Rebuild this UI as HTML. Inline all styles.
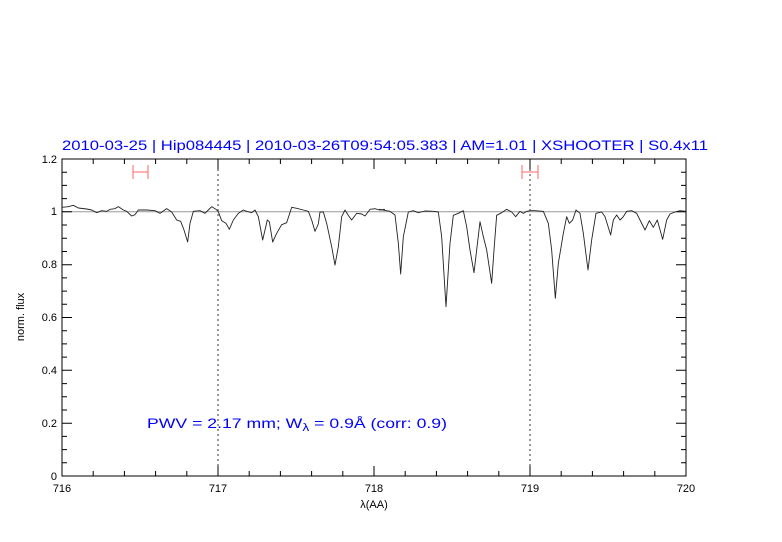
<!DOCTYPE html>
<html><head><style>body{margin:0;background:#fff}svg{display:block}</style></head><body>
<svg width="782" height="542" xmlns="http://www.w3.org/2000/svg" font-family="Liberation Sans, sans-serif">
<rect width="782" height="542" fill="#fff"/>
<text x="62" y="150" fill="#0000ff" font-size="14" textLength="646" lengthAdjust="spacingAndGlyphs">2010-03-25 | Hip084445 | 2010-03-26T09:54:05.383 | AM=1.01 | XSHOOTER | S0.4x11</text>
<line x1="62" y1="211.8" x2="686" y2="211.8" stroke="#999" stroke-width="1"/>
<line x1="218" y1="159" x2="218" y2="476" stroke="#000" stroke-dasharray="2,3" stroke-width="0.8"/>
<line x1="530" y1="159" x2="530" y2="476" stroke="#000" stroke-dasharray="2,3" stroke-width="0.8"/>
<g stroke="#f66" stroke-width="1" fill="none">
<path d="M133,172H148M133,165V179M148,165V179"/>
<path d="M522,172H538M522,165V179M538,165V179"/>
</g>
<g fill="none" stroke="#000" stroke-width="1">
<rect x="62" y="159" width="624" height="317"/>
<path d="
M93.2,476v-5M124.4,476v-5M155.6,476v-5M186.8,476v-5M218,476v-10M249.2,476v-5M280.4,476v-5M311.6,476v-5M342.8,476v-5M374,476v-10M405.2,476v-5M436.4,476v-5M467.6,476v-5M498.8,476v-5M530,476v-10M561.2,476v-5M592.4,476v-5M623.6,476v-5M654.8,476v-5
M93.2,159v5M124.4,159v5M155.6,159v5M186.8,159v5M218,159v10M249.2,159v5M280.4,159v5M311.6,159v5M342.8,159v5M374,159v10M405.2,159v5M436.4,159v5M467.6,159v5M498.8,159v5M530,159v10M561.2,159v5M592.4,159v5M623.6,159v5M654.8,159v5"/>
<path d="M62,462.8h5M62,449.6h5M62,436.4h5M62,423.2h10M62,410h5M62,396.8h5M62,383.6h5M62,370.3h10M62,357.1h5M62,343.9h5M62,330.7h5M62,317.5h10M62,304.3h5M62,291.1h5M62,277.9h5M62,264.7h10M62,251.5h5M62,238.3h5M62,225h5M62,211.8h10M62,198.6h5M62,185.4h5M62,172.2h5
M686,462.8h-5M686,449.6h-5M686,436.4h-5M686,423.2h-10M686,410h-5M686,396.8h-5M686,383.6h-5M686,370.3h-10M686,357.1h-5M686,343.9h-5M686,330.7h-5M686,317.5h-10M686,304.3h-5M686,291.1h-5M686,277.9h-5M686,264.7h-10M686,251.5h-5M686,238.3h-5M686,225h-5M686,211.8h-10M686,198.6h-5M686,185.4h-5M686,172.2h-5"/>
</g>
<g fill="none" stroke="#222" stroke-width="0.9" stroke-linejoin="round">
<path vector-effect="non-scaling-stroke" transform="translate(60,150) scale(0.33333)" d="M6,172 L25,170 40,166 55,174 80,177 95,180 110,188 125,182 140,184 150,178 165,176 175,170 190,180 200,184 215,198 225,194 235,180 260,180 285,182 300,190 320,176 335,186 350,210 362,214 372,240 383,276 390,220 400,184 420,182 435,190 445,180 455,170 468,178 475,185 485,212 498,220 508,238 520,210 535,190 550,180 560,184 575,188 585,180 595,200 608,270 622,210 628,215 638,276 650,250 665,224 680,218 695,172 710,175 730,180 745,184 755,210 765,244 775,222 780,186 790,186 800,220 815,290 825,345 835,290 845,200 855,180 865,196 875,210 890,190 905,192 915,198 930,178 945,176 958,180 975,178"/>
<path vector-effect="non-scaling-stroke" transform="translate(370,150) scale(0.33333)" d="M27,178 L60,184 75,195 85,280 92,372 100,260 115,186 130,182 145,188 165,183 190,184 205,186 215,260 228,470 240,280 250,196 265,190 280,182 290,230 300,300 312,368 320,300 330,215 340,260 350,300 365,400 372,300 380,196 395,188 410,178 425,186 437,200 450,184 460,190 470,184 482,182 495,182 520,184 535,220 545,300 556,445 565,340 580,250 590,200 598,220 608,210 618,180 630,190 640,250 654,360 665,270 678,190 695,186 705,200 722,255 730,210 740,195 750,210 760,200 770,184 785,182 800,190 810,210 825,240 838,212 850,232 862,210 878,268 890,210 900,192 915,186 930,182 948,184"/>
</g>
<g font-size="11" fill="#000" text-anchor="end">
<text x="57" y="480">0</text><text x="57" y="427">0.2</text><text x="57" y="374">0.4</text><text x="57" y="321">0.6</text><text x="57" y="268">0.8</text><text x="57" y="215">1</text><text x="57" y="163">1.2</text>
</g>
<g font-size="11" fill="#000" text-anchor="middle">
<text x="62" y="492">716</text><text x="218" y="492">717</text><text x="374" y="492">718</text><text x="530" y="492">719</text><text x="686" y="492">720</text>
<text x="374" y="508">λ(AA)</text>
<text transform="translate(24,317) rotate(-90)">norm. flux</text>
</g>
<text x="147" y="428" fill="#0000ff" font-size="14" textLength="300" lengthAdjust="spacingAndGlyphs">PWV = 2.17 mm; W<tspan font-size="11" dy="3">λ</tspan><tspan dy="-3"> = 0.9Å (corr: 0.9)</tspan></text>
</svg>
</body></html>
